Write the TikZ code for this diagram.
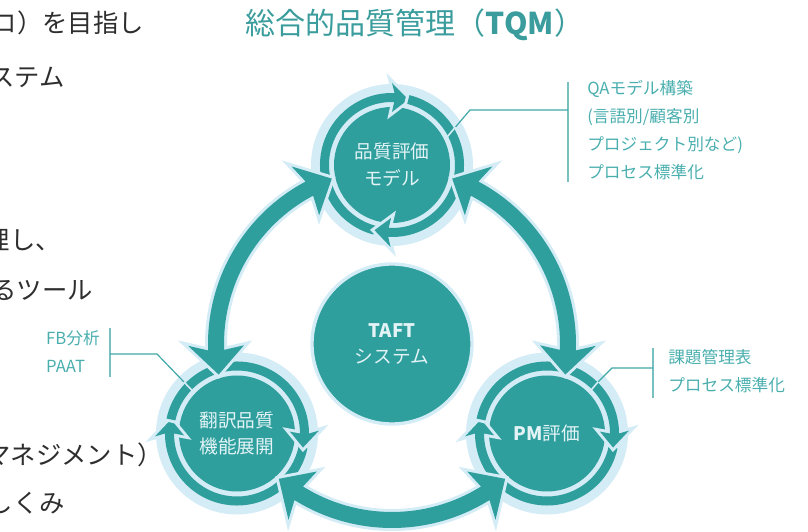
\documentclass[tikz,border=0pt]{standalone}
\usepackage{fontspec}
\setmainfont{Noto Sans CJK JP}
\usetikzlibrary{calc}

\definecolor{tqmteal}{HTML}{2E9F9D}
\definecolor{tqmhalo}{HTML}{D4ECF6}
\definecolor{tqmlabel}{HTML}{4AAEAE}
\definecolor{tqmtitle}{HTML}{3A9C9C}
\definecolor{tqmtext}{HTML}{E3F3F6}
\definecolor{tqmline}{HTML}{3FA7A7}

\tikzset{
  arrowbody/.style={fill=tqmteal, preaction={draw=tqmhalo, line width=4.5pt, line join=miter}},
  disc/.style={circle, fill=tqmteal, minimum size=87pt, inner sep=0pt, text=tqmtext, align=center, font=\fontsize{14}{20}\selectfont},
  lbl/.style={anchor=west, align=left, inner sep=0pt, text=tqmlabel, font=\fontsize{12.5}{21}\selectfont},
  leader/.style={draw=tqmline, line width=0.9pt},
  cut/.style={draw=tqmhalo, line width=1.2pt},
  bodytext/.style={anchor=east, inner sep=0pt, text=black!82, font=\fontsize{19}{21}\selectfont}
}

% big double arrow on the outer circle: #1 centre, #2 first tip, #3 second tip (ccw)
\newcommand\bigarrow[3]{%
  \fill[arrowbody, shift={(#1)}]
    (#2:176) -- ({#2+9.5}:204) -- ({#2+8}:184)
    arc[start angle={#2+8}, end angle={#3-8}, radius=184]
    -- ({#3-9.5}:204) -- (#3:176) -- ({#3-9.5}:148) -- ({#3-8}:168)
    arc[start angle={#3-8}, end angle={#2+8}, radius=168]
    -- ({#2+9.5}:148) -- cycle;}

% ring arrow round a node: #1 centre, #2 tail angle, #3 tip angle (cw)
\newcommand\ringarrow[3]{%
  \fill[arrowbody, shift={(#1)}]
    (#2:72) arc[start angle=#2, end angle={#3+12}, radius=72]
    -- ({#3+14}:82) -- (#3:67.5) -- ({#3+14}:53) -- ({#3+12}:63)
    arc[start angle={#3+12}, end angle=#2, radius=63] -- cycle;}

\begin{document}
\begin{tikzpicture}[x=0.75pt, y=0.75pt]
\useasboundingbox (0,0) rectangle (808,532);
\clip (0,0) rectangle (808,532);

% text of the slide on the left
\node[bodytext] (t1) at (144,509) {ロ）を目指し};
\node[bodytext] (t2) at (65,455) {ステム};
\node[bodytext] (t3) at (61,292) {理し、};
\node[bodytext] (t4) at (93,242) {るツール};
\node[bodytext] (t5) at (163,77) {マネジメント）};
\node[bodytext] (t6) at (65,29) {しくみ};

\node[text=tqmtitle, font=\fontsize{22.5}{26}\selectfont] (title) at (415,507) {総合的品質管理（\textbf{TQM}）};

% centres
\coordinate (mid) at (392,188);
\coordinate (topc) at ($(mid)+(90:179)$);
\coordinate (leftc) at ($(mid)+(210:179)$);
\coordinate (rightc) at ($(mid)+(330:179)$);

\node[disc, minimum size=120pt, draw=tqmhalo, line width=2.5pt] (taft) at (mid) {\textbf{TAFT}\\システム};

\foreach \c in {topc,leftc,rightc}
  \fill[tqmhalo] (\c) circle[radius=81];
\node[disc] (model) at (topc) {品質評価\\モデル};
\node[disc] (qfd) at (leftc) {翻訳品質\\機能展開};
\node[disc] (pm) at (rightc) {\textbf{PM}評価};

\ringarrow{topc}{255}{76}
\ringarrow{topc}{76}{-105}
\ringarrow{leftc}{348}{168}
\ringarrow{leftc}{168}{-12}
\ringarrow{rightc}{348}{168}
\ringarrow{rightc}{168}{-12}

\bigarrow{mid}{110}{190}
\bigarrow{mid}{-10}{70}
\bigarrow{mid}{230}{310}

% labels and leader lines
\node[lbl] (qa) at (587,402) {QAモデル構築\\(言語別/顧客別\\プロジェクト別など)\\プロセス標準化};
\node[lbl] (task) at (668,161) {課題管理表\\プロセス標準化};
\node[lbl, anchor=east] (fb) at (100,180) {FB分析\\PAAT};

\coordinate (qa-bar) at (568,422);
\coordinate (qa-end) at (455.5,405);
\coordinate (qa-in) at (445.8,393.5);
\draw[leader, tqmline!70] (568,450) -- (568,350);
\draw[leader] (qa-bar) -- (470,422) -- (qa-end);
\draw[cut] (qa-end) -- (qa-in);

\coordinate (task-bar) at (653,164);
\coordinate (task-end) at (598,150);
\coordinate (task-in) at (589,139.5);
\draw[leader, tqmline!70] (653,184) -- (653,134);
\draw[leader] (task-bar) -- (612,164) -- (task-end);
\draw[cut] (task-end) -- (task-in);

\coordinate (fb-bar) at (110,178);
\coordinate (fb-end) at (184,150);
\coordinate (fb-in) at (194,139.5);
\draw[leader, tqmline!70] (110,204) -- (110,155);
\draw[leader] (fb-bar) -- (157,178) -- (fb-end);
\draw[cut] (fb-end) -- (fb-in);
\end{tikzpicture}
\end{document}
